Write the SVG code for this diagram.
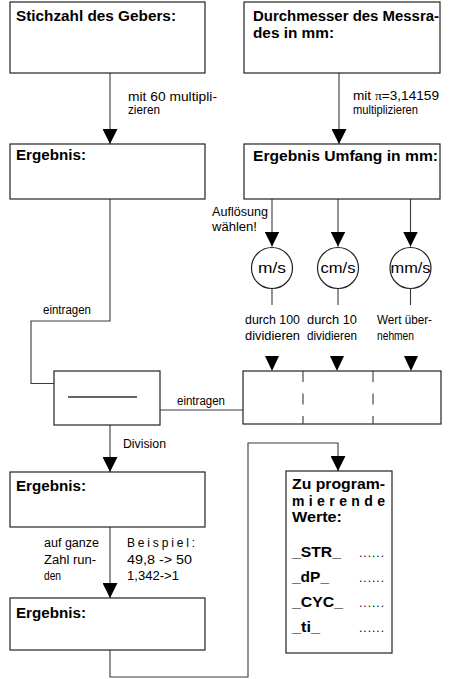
<svg xmlns="http://www.w3.org/2000/svg" width="449" height="679" viewBox="0 0 449 679">
  <style>
    .box { fill: #ffffff; stroke: #222222; stroke-width: 1.2; }
    .ln { fill: none; stroke: #3a3a3a; stroke-width: 1.1; }
    .arr { fill: none; stroke: #3a3a3a; stroke-width: 1.1; marker-end: url(#head); }
    .dash { fill: none; stroke: #3a3a3a; stroke-width: 1.1; stroke-dasharray: 11 11.5; }
    .tri { fill: #000000; }
    .t { font-family: "Liberation Sans", Arial, sans-serif; font-size: 14px; font-weight: bold; fill: #000000; }
    .s { font-family: "Liberation Sans", Arial, sans-serif; font-size: 12px; fill: #000000; }
    .c { font-family: "Liberation Sans", Arial, sans-serif; font-size: 14px; fill: #000000; text-anchor: middle; }
  </style>
  <defs>
    <marker id="head" markerUnits="userSpaceOnUse" markerWidth="15" markerHeight="15" refX="15" refY="7.5" orient="auto">
      <path d="M0,0 L15,7.5 L0,15 Z" fill="#000000"/>
    </marker>
    <path id="tri" d="M-7,0 L7,0 L0,15 Z"/>
  </defs>

  <!-- connectors -->
  <g id="connectors">
    <line class="arr" x1="110" y1="73" x2="110" y2="144"/>
    <line class="arr" x1="339" y1="73" x2="339" y2="144"/>
    <polyline class="ln" points="110,199 110,321 31,321 31,383.5 54,383.5"/>
    <line class="arr" x1="272" y1="199" x2="272" y2="246.5"/>
    <line class="arr" x1="338" y1="199" x2="338" y2="246.5"/>
    <line class="arr" x1="410.5" y1="199" x2="410.5" y2="246.5"/>
    <line class="ln" x1="272" y1="288.5" x2="272" y2="305"/>
    <line class="ln" x1="338" y1="288.5" x2="338" y2="305"/>
    <line class="ln" x1="410.5" y1="288.5" x2="410.5" y2="305"/>
    <use href="#tri" class="tri" x="272" y="356"/>
    <use href="#tri" class="tri" x="337" y="356"/>
    <use href="#tri" class="tri" x="411" y="356"/>
    <line class="ln" x1="160" y1="410" x2="243" y2="410"/>
    <line class="arr" x1="110" y1="425" x2="110" y2="472"/>
    <line class="arr" x1="110" y1="527" x2="110" y2="598"/>
    <polyline class="arr" points="110,650 110,677 248,677 248,443 338,443 338,471"/>
  </g>

  <!-- labels on connectors -->
  <g id="labels">
    <text class="s" x="128" y="101" textLength="89" lengthAdjust="spacingAndGlyphs">mit 60 multipli-</text>
    <text class="s" x="128" y="114" textLength="32" lengthAdjust="spacingAndGlyphs">zieren</text>
    <text class="s" x="353" y="100" textLength="86" lengthAdjust="spacingAndGlyphs">mit <tspan font-family="Liberation Serif, serif">π</tspan>=3,14159</text>
    <text class="s" x="353" y="114" textLength="65" lengthAdjust="spacingAndGlyphs">multiplizieren</text>
    <text class="s" x="212" y="216" textLength="56" lengthAdjust="spacingAndGlyphs">Auflösung</text>
    <text class="s" x="212" y="231" textLength="45" lengthAdjust="spacingAndGlyphs">wählen!</text>
    <text class="s" x="245" y="324" textLength="55" lengthAdjust="spacingAndGlyphs">durch 100</text>
    <text class="s" x="245" y="340" textLength="55" lengthAdjust="spacingAndGlyphs">dividieren</text>
    <text class="s" x="307" y="324" textLength="50" lengthAdjust="spacingAndGlyphs">durch 10</text>
    <text class="s" x="307" y="340" textLength="50" lengthAdjust="spacingAndGlyphs">dividieren</text>
    <text class="s" x="377" y="324" textLength="55" lengthAdjust="spacingAndGlyphs">Wert über-</text>
    <text class="s" x="377" y="340" textLength="37" lengthAdjust="spacingAndGlyphs">nehmen</text>
    <text class="s" x="43" y="314" textLength="48" lengthAdjust="spacingAndGlyphs">eintragen</text>
    <text class="s" x="177" y="405" textLength="48" lengthAdjust="spacingAndGlyphs">eintragen</text>
    <text class="s" x="123" y="448" textLength="43" lengthAdjust="spacingAndGlyphs">Division</text>
    <text class="s" x="44" y="547" textLength="55" lengthAdjust="spacingAndGlyphs">auf ganze</text>
    <text class="s" x="44" y="564" textLength="52" lengthAdjust="spacingAndGlyphs">Zahl run-</text>
    <text class="s" x="44" y="580" textLength="17" lengthAdjust="spacingAndGlyphs">den</text>
    <text class="s" x="127" y="547" textLength="68" lengthAdjust="spacing">Beispiel:</text>
    <text class="s" x="127" y="564" textLength="65" lengthAdjust="spacingAndGlyphs">49,8 -&gt; 50</text>
    <text class="s" x="127" y="580" textLength="52" lengthAdjust="spacingAndGlyphs">1,342-&gt;1</text>
  </g>

  <!-- nodes -->
  <g id="stichzahl">
    <rect class="box" x="10" y="2" width="195" height="71"/>
    <text class="t" x="16" y="21" textLength="160" lengthAdjust="spacingAndGlyphs">Stichzahl des Gebers:</text>
  </g>
  <g id="durchmesser">
    <rect class="box" x="244" y="2" width="196" height="71"/>
    <text class="t" x="253" y="21" textLength="186" lengthAdjust="spacingAndGlyphs">Durchmesser des Messra-</text>
    <text class="t" x="253" y="38" textLength="81" lengthAdjust="spacingAndGlyphs">des in mm:</text>
  </g>
  <g id="ergebnis1">
    <rect class="box" x="10" y="144" width="195" height="55"/>
    <text class="t" x="16" y="160" textLength="70" lengthAdjust="spacingAndGlyphs">Ergebnis:</text>
  </g>
  <g id="umfang">
    <rect class="box" x="244" y="144" width="196" height="55"/>
    <text class="t" x="253" y="161" textLength="185" lengthAdjust="spacingAndGlyphs">Ergebnis Umfang in mm:</text>
  </g>
  <g id="ms">
    <circle class="box" cx="272" cy="268" r="20.5"/>
    <text class="c" x="272" y="273" textLength="28" lengthAdjust="spacingAndGlyphs">m/s</text>
  </g>
  <g id="cms">
    <circle class="box" cx="338" cy="268" r="20.5"/>
    <text class="c" x="338" y="273" textLength="35" lengthAdjust="spacingAndGlyphs">cm/s</text>
  </g>
  <g id="mms">
    <circle class="box" cx="410.5" cy="268" r="20.5"/>
    <text class="c" x="410.5" y="273" textLength="40" lengthAdjust="spacingAndGlyphs">mm/s</text>
  </g>
  <g id="bruch">
    <rect class="box" x="54" y="371" width="106" height="54"/>
    <line x1="68" y1="397" x2="137" y2="397" stroke="#333333" stroke-width="1.5"/>
  </g>
  <g id="aufloesung">
    <rect class="box" x="243" y="371" width="198" height="53"/>
    <line class="dash" x1="303" y1="371" x2="303" y2="424"/>
    <line class="dash" x1="373" y1="371" x2="373" y2="424"/>
  </g>
  <g id="ergebnis2">
    <rect class="box" x="10" y="472" width="195" height="55"/>
    <text class="t" x="16" y="491" textLength="70" lengthAdjust="spacingAndGlyphs">Ergebnis:</text>
  </g>
  <g id="ergebnis3">
    <rect class="box" x="10" y="598" width="195" height="52"/>
    <text class="t" x="16" y="618" textLength="70" lengthAdjust="spacingAndGlyphs">Ergebnis:</text>
  </g>
  <g id="werte">
    <rect class="box" x="286" y="471" width="106" height="182"/>
    <text class="t" x="292" y="489" textLength="93" lengthAdjust="spacingAndGlyphs">Zu program-</text>
    <text class="t" x="292" y="506" textLength="93" lengthAdjust="spacing">mierende</text>
    <text class="t" x="292" y="522" textLength="50" lengthAdjust="spacingAndGlyphs">Werte:</text>
    <text class="t" x="292" y="557" textLength="49" lengthAdjust="spacingAndGlyphs">_STR_</text>
    <text class="t" x="292" y="582" textLength="37" lengthAdjust="spacingAndGlyphs">_dP_</text>
    <text class="t" x="292" y="607" textLength="51" lengthAdjust="spacingAndGlyphs">_CYC_</text>
    <text class="t" x="292" y="632" textLength="28" lengthAdjust="spacingAndGlyphs">_ti_</text>
    <text class="s" x="359" y="557" textLength="25" lengthAdjust="spacing">......</text>
    <text class="s" x="359" y="582" textLength="25" lengthAdjust="spacing">......</text>
    <text class="s" x="359" y="607" textLength="25" lengthAdjust="spacing">......</text>
    <text class="s" x="359" y="632" textLength="25" lengthAdjust="spacing">......</text>
  </g>
</svg>
